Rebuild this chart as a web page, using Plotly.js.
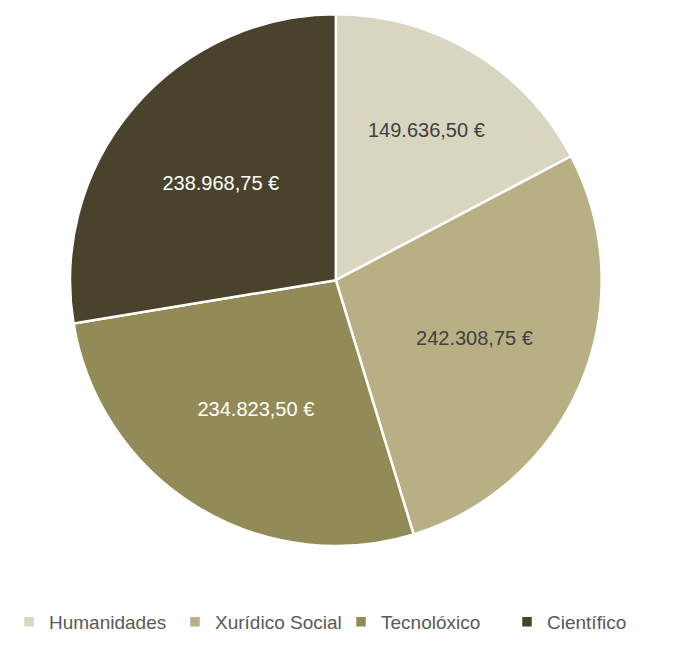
<!DOCTYPE html>
<html><head><meta charset="utf-8">
<script src="https://cdn.plot.ly/plotly-3.0.1.min.js"></script>
<style>body{margin:0;background:#fff}#c{width:673px;height:650px}</style>
</head><body><div id="c"></div>
<script>
const categories = ["Humanidades", "Xurídico Social", "Tecnolóxico", "Científico"];
const values = [149636.50, 242308.75, 234823.50, 238968.75];
const colors = ["#d8d5c0", "#b8b084", "#938b57", "#4a432b"];
const textColors = ["#404040", "#404040", "#ffffff", "#ffffff"];

Plotly.newPlot("c", [{
  type: "pie",
  labels: categories,
  values: values,
  sort: false,
  direction: "clockwise",
  rotation: 0,
  marker: {colors: colors, line: {color: "#ffffff", width: 2.5}},
  texttemplate: "%{value:,.2f} €",
  textposition: "inside",
  insidetextorientation: "horizontal",
  textfont: {family: "Liberation Sans, Arial, sans-serif", size: 20, color: textColors},
  hoverinfo: "none",
  domain: {x: [0.104, 0.894], y: [0.16, 0.978]}
}], {
  width: 673, height: 650,
  separators: ",.",
  margin: {l: 0, r: 0, t: 0, b: 0},
  paper_bgcolor: "#ffffff",
  showlegend: true,
  legend: {orientation: "h", x: 0.53, xanchor: "center", y: 0.014, yanchor: "bottom",
    font: {family: "Liberation Sans, Arial, sans-serif", size: 19, color: "#595959"},
    itemwidth: 30, entrywidth: 121, traceorder: "normal"}
}, {displayModeBar: false});
</script></body></html>
